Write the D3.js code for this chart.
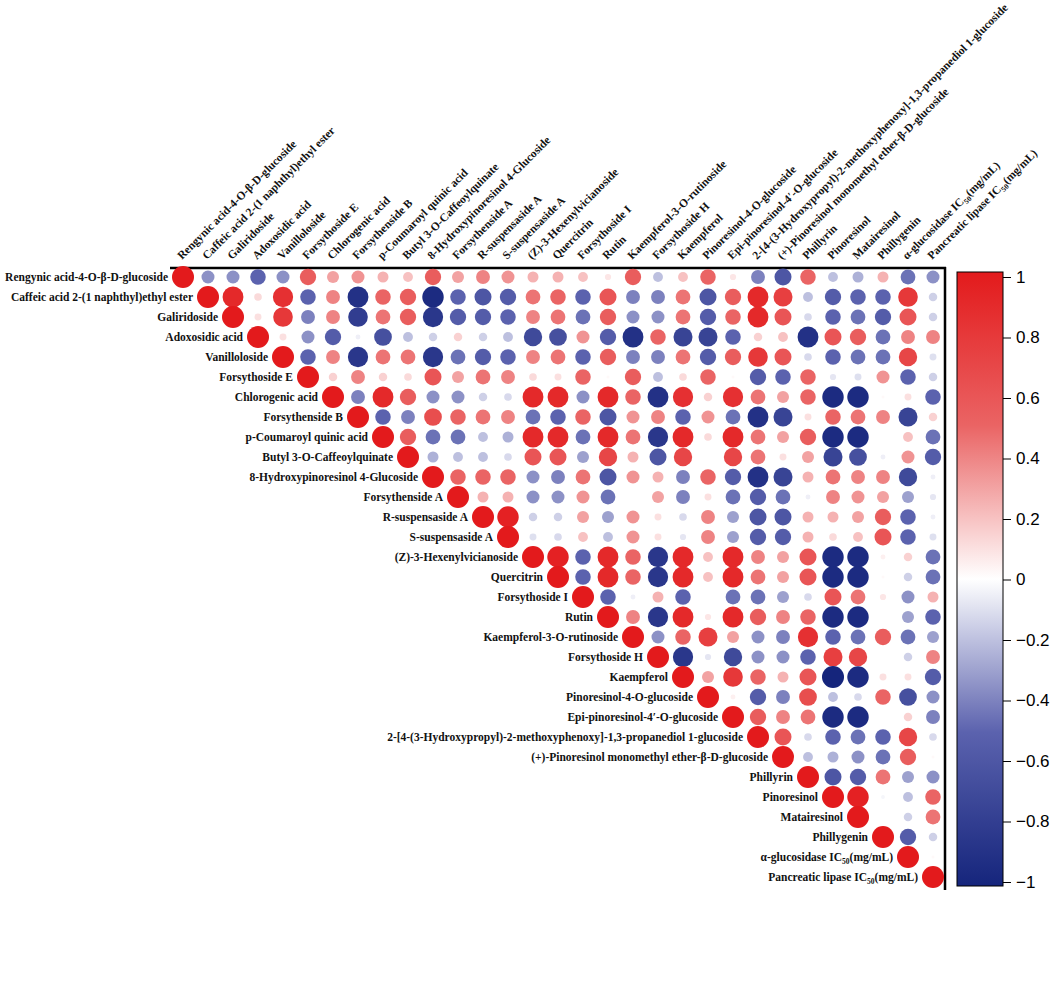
<!DOCTYPE html>
<html><head><meta charset="utf-8">
<script src="https://cdn.jsdelivr.net/npm/d3@7"></script>
<style>body{margin:0;background:#fff}</style>
</head><body>
<svg id="chart" width="1051" height="1007"></svg>
<script>
// Variable names (rows and columns share them)
const labels = [
  "Rengynic acid-4-O-β-D-glucoside",
  "Caffeic acid 2-(1 naphthyl)ethyl ester",
  "Galiridoside",
  "Adoxosidic acid",
  "Vanilloloside",
  "Forsythoside E",
  "Chlorogenic acid",
  "Forsythenside B",
  "p-Coumaroyl quinic acid",
  "Butyl 3-O-Caffeoylquinate",
  "8-Hydroxypinoresinol 4-Glucoside",
  "Forsythenside A",
  "R-suspensaside A",
  "S-suspensaside A",
  "(Z)-3-Hexenylvicianoside",
  "Quercitrin",
  "Forsythoside I",
  "Rutin",
  "Kaempferol-3-O-rutinoside",
  "Forsythoside H",
  "Kaempferol",
  "Pinoresinol-4-O-glucoside",
  "Epi-pinoresinol-4′-O-glucoside",
  "2-[4-(3-Hydroxypropyl)-2-methoxyphenoxy]-1,3-propanediol 1-glucoside",
  "(+)-Pinoresinol monomethyl ether-β-D-glucoside",
  "Phillyrin",
  "Pinoresinol",
  "Matairesinol",
  "Phillygenin",
  "α-glucosidase IC50(mg/mL)",
  "Pancreatic lipase IC50(mg/mL)"
];

// Upper-triangle correlation rows: row i holds columns i..30
const corrRows = [
  [1,-0.35,-0.35,-0.5,-0.35,0.55,0.3,0.35, 0.25,0.2,0.55,0.3,0.4,0.35,0.25,0.25, 0.2,0.08,0.55,-0.2,0.2,0.5,0.08,-0.4, -0.6,0.5,-0.2,-0.25,0.25,-0.45,-0.35],
  [1,0.9,0.12,0.85,-0.5,0.4,-0.9, 0.5,0.55,-0.95,-0.5,-0.6,-0.55,0.45,0.5, -0.5,0.6,-0.4,-0.4,0.45,-0.6,0.55,0.9, 0.75,-0.2,-0.55,-0.5,-0.5,0.8,-0.15],
  [1,0.1,0.8,-0.4,0.4,-0.8, 0.45,0.55,-0.85,-0.55,-0.55,-0.5,0.4,0.45, -0.45,0.55,-0.35,-0.35,0.45,-0.55,0.5,0.9, 0.6,-0.12,-0.5,-0.45,-0.55,0.6,-0.15],
  [1,0.1,-0.35,-0.55,-0.05, -0.65,-0.2,-0.15,0.15,-0.15,-0.2,-0.7,-0.65, 0.35,-0.55,-0.9,0.5,-0.75,-0.75,-0.5,0.15, 0.2,-0.9,0.6,0.55,-0.45,0.4,0.4],
  [1,-0.5,0.4,-0.85, 0.45,0.45,-0.85,-0.45,-0.55,-0.5,0.4,0.45, -0.5,0.55,-0.4,-0.4,0.45,-0.55,0.55,0.8, 0.6,-0.12,-0.5,-0.45,-0.45,0.7,-0.1],
  [1,0.15,0.4, 0.15,0.12,0.6,0.3,0.45,0.4,0.12,0.1, 0.5,0.02,0.55,-0.2,0.12,0.5,0.02,-0.55, -0.5,0.5,-0.08,-0.1,0.35,-0.5,-0.15],
  [1,-0.4, 0.9,0.55,-0.35,-0.35,-0.15,-0.12,0.9,0.9, -0.35,0.9,0.5,-0.9,0.85,0.15,0.85,0.45, 0.3,0.5,-0.95,-0.95,0.02,0.1,-0.5],
  [1, -0.5,-0.4,0.65,0.5,0.45,0.4,-0.45,-0.5, 0.5,-0.6,0.35,0.4,-0.5,0.35,-0.45,-0.9, -0.75,0.1,0.5,0.45,0.4,-0.75,0.15],
  [1,0.55,-0.45,-0.45,-0.2,-0.25,0.9,0.9, -0.45,0.9,0.45,-0.85,0.9,0.12,0.9,0.45, 0.3,0.55,-0.95,-0.95,0.0,0.2,-0.45],
  [1,-0.25,-0.2,-0.2,-0.12,0.6,0.6, -0.3,0.7,0.25,-0.6,0.7,0.0,0.7,0.45, 0.1,0.3,-0.75,-0.65,-0.05,0.35,-0.55],
  [1,0.5,0.5,0.5,-0.35,-0.4, 0.45,-0.6,0.35,0.25,-0.4,0.5,-0.55,-0.9, -0.75,0.25,0.45,0.4,0.4,-0.7,-0.05],
  [1,0.25,0.25,-0.35,-0.35, 0.35,-0.45,0.0,0.3,-0.4,0.1,-0.45,-0.55, -0.45,-0.05,0.4,0.35,0.3,-0.3,-0.08],
  [1,0.95,-0.15,-0.15, 0.3,-0.3,0.35,0.1,-0.12,0.4,-0.3,-0.6, -0.6,0.25,0.25,0.3,0.55,-0.5,-0.05],
  [1,-0.1,-0.12, 0.2,-0.2,0.35,0.1,-0.08,0.4,-0.3,-0.55, -0.55,0.25,0.12,0.2,0.6,-0.5,-0.1],
  [1,0.95, -0.5,0.9,0.5,-0.85,0.9,0.2,0.9,0.4, 0.3,0.6,-0.95,-0.95,0.05,0.15,-0.45],
  [1, -0.5,0.9,0.5,-0.85,0.9,0.2,0.9,0.45, 0.3,0.6,-0.95,-0.95,0.02,-0.15,-0.45],
  [1,-0.5,-0.05,0.25,-0.5,0.0,-0.45,-0.45, -0.3,-0.12,0.6,0.45,0.08,-0.35,0.25],
  [1,0.4,-0.85,0.9,0.08,0.9,0.55, 0.4,0.5,-0.95,-0.95,0.0,-0.3,-0.5],
  [1,-0.35,0.5,0.75,0.3,-0.35, -0.4,0.85,-0.5,-0.45,0.55,-0.45,-0.3],
  [1,-0.85,-0.08,-0.7,-0.35, -0.35,-0.5,0.75,0.7,0.0,-0.15,0.4],
  [1,0.3,0.8,0.5, 0.25,0.6,-1,-0.95,0.1,0.1,-0.55],
  [1,0.05,-0.55, -0.4,0.65,-0.2,-0.12,0.5,-0.65,-0.35],
  [1,0.55, 0.4,0.45,-0.95,-0.95,0.0,0.15,-0.4],
  [1, 0.6,-0.12,-0.5,-0.45,-0.5,0.7,-0.12],
  [1,-0.2,-0.25,-0.35,-0.45,0.55,0.02],
  [1,-0.6,-0.55,0.45,-0.3,-0.35],
  [1,0.95,-0.03,-0.2,0.5],
  [1,0.0,-0.15,0.45],
  [1,-0.55,-0.15],
  [1,0.02],
  [1]
];

// Colour bar tick values
const barTicks = [1,0.8,0.6,0.4,0.2,0,-0.2,-0.4,-0.6,-0.8,-1];
const colorStops = [-1,-0.5,0,0.5,1];
const colorRange = ["#15257c","#5b62ae","#ffffff","#ea6464","#e31a1c"];

const svg = d3.select("#chart");
const x = d3.scalePoint().domain(labels).range([183, 933]);
const y = d3.scalePoint().domain(labels).range([277, 877]);
const r = d3.scaleSqrt().domain([0, 1]).range([0, 11]);
const color = d3.scaleLinear().domain(colorStops).range(colorRange).interpolate(d3.interpolateRgb);

const cells = [];
corrRows.forEach((row, i) => row.forEach((v, k) => cells.push({i, j: i + k, v})));

// frame
svg.append("line").attr("x1", 170).attr("x2", 946).attr("y1", 268).attr("y2", 268)
  .attr("stroke", "#000").attr("stroke-width", 2.5);
svg.append("line").attr("x1", 945).attr("x2", 945).attr("y1", 267).attr("y2", 890)
  .attr("stroke", "#000").attr("stroke-width", 2.5);

svg.append("g").selectAll("circle").data(cells).join("circle")
  .attr("cx", d => x(labels[d.j]))
  .attr("cy", d => y(labels[d.i]))
  .attr("r", d => r(Math.abs(d.v)))
  .attr("fill", d => color(d.v));

function writeLabel(sel, name) {
  const m = name.match(/^(.*IC)50(\(mg\/mL\))$/);
  if (m) {
    sel.append("tspan").text(m[1]);
    sel.append("tspan").attr("font-size", "7.5px").attr("dy", 3).text("50");
    sel.append("tspan").attr("dy", -3).text(m[2]);
  } else sel.text(name);
}

const font = "'Liberation Serif','Times New Roman',serif";
// row labels
labels.forEach((name, i) => {
  const t = svg.append("text")
    .attr("x", x(name) - 15).attr("y", y(name) + 4)
    .attr("text-anchor", "end")
    .attr("font-family", font).attr("font-weight", "bold").attr("font-size", "11.5px")
    .attr("fill", "#111");
  writeLabel(t, name);
});
// column labels
labels.forEach((name) => {
  const t = svg.append("text")
    .attr("transform", `translate(${x(name) - 1},260) rotate(-45)`)
    .attr("font-family", font).attr("font-weight", "bold").attr("font-size", "11.5px")
    .attr("fill", "#111");
  writeLabel(t, name);
});

// colour bar
const barX = 957, barW = 46, barTop = 272, barBot = 886;
const defs = svg.append("defs");
const grad = defs.append("linearGradient").attr("id", "cb").attr("x1", 0).attr("x2", 0).attr("y1", 1).attr("y2", 0);
d3.range(0, 21).forEach(k => {
  const v = -1 + k * 0.1;
  grad.append("stop").attr("offset", (k / 20)).attr("stop-color", color(v));
});
svg.append("rect").attr("x", barX).attr("y", barTop).attr("width", barW).attr("height", barBot - barTop)
  .attr("fill", "url(#cb)").attr("stroke", "#000").attr("stroke-width", 1);
const cy = d3.scaleLinear().domain([-1, 1]).range([882, 277]);
const ax = svg.append("g").attr("transform", `translate(${barX + barW},0)`)
  .call(d3.axisRight(cy).tickValues(barTicks).tickSize(8).tickPadding(5)
    .tickFormat(d => d3.format("~g")(Math.round(d * 10) / 10)));
ax.select(".domain").remove();
ax.selectAll("text").attr("font-family", "'Liberation Sans',Arial,sans-serif").attr("font-size", "17px").attr("fill", "#000");
</script>
</body></html>
